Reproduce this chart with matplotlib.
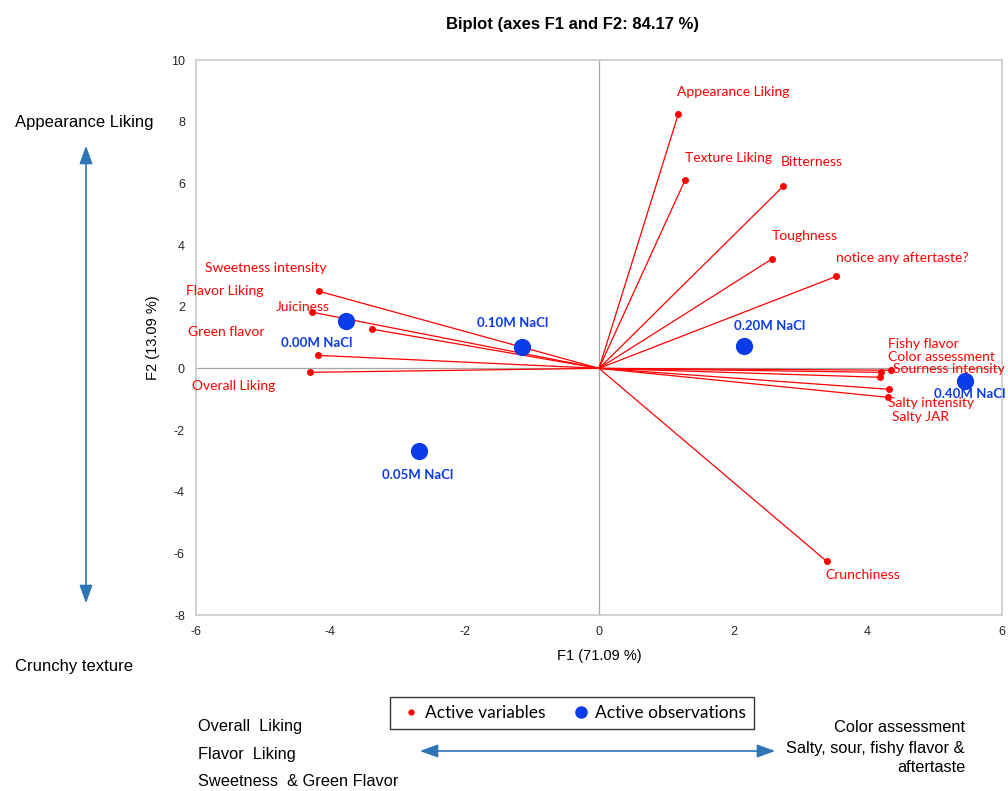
import matplotlib.pyplot as plt
from matplotlib.lines import Line2D
from matplotlib.patches import FancyArrowPatch

plt.rcParams['axes.unicode_minus'] = False

# active variables (F1, F2)
var_names = ['Appearance Liking', 'Texture Liking', 'Bitterness', 'Toughness',
             'notice any aftertaste?', 'Fishy flavor', 'Color assessment',
             'Sourness intensity', 'Salty intensity', 'Salty JAR', 'Crunchiness',
             'Sweetness intensity', 'Flavor Liking', 'Juiciness', 'Green flavor',
             'Overall Liking']
var_f1 = [1.18, 1.28, 2.74, 2.57, 3.53, 4.35, 4.20, 4.18, 4.32, 4.30, 3.39,
          -4.17, -4.27, -3.38, -4.18, -4.30]
var_f2 = [8.24, 6.10, 5.90, 3.54, 2.98, -0.06, -0.13, -0.29, -0.68, -0.94, -6.26,
          2.50, 1.82, 1.27, 0.42, -0.13]
# label offsets in pixels
var_off = [(-1, 22), (0, 22), (-2, 24), (0, 23), (0, 18), (-3, 26), (7, 15),
           (13, 8), (-1, -14), (4, -20), (-1, -14),
           (-114, 23), (-126, 21), (-96, 22), (-130, 23), (-118, -14)]

# active observations
obs_names = ['0.00M NaCl', '0.05M NaCl', '0.10M NaCl', '0.20M NaCl', '0.40M NaCl']
obs_f1 = [-3.76, -2.68, -1.15, 2.16, 5.45]
obs_f2 = [1.52, -2.69, 0.68, 0.71, -0.42]
obs_off = [(-30, -22), (-1, -24), (-9, 24), (26, 20), (5, -13)]

red = '#ff0000'
blue = '#0a3be8'
arrow_blue = '#2e75b6'
lab_font = ['Lato', 'DejaVu Sans']
arial = ['Liberation Sans', 'DejaVu Sans']
narrow = ['Liberation Sans Narrow', 'Liberation Sans', 'DejaVu Sans']

fig = plt.figure(figsize=(10.08, 7.91), dpi=100)
ax = fig.add_axes([196 / 1008, 1 - 615 / 791, 806 / 1008, 555 / 791])

ax.axhline(0, color='#a6a6a6', lw=0.9, zorder=1)
ax.axvline(0, color='#a6a6a6', lw=0.9, zorder=1)

for name, x, y, off in zip(var_names, var_f1, var_f2, var_off):
    ax.plot([0, x], [0, y], color=red, lw=0.9, zorder=2)
    ax.plot(x, y, 'o', color=red, ms=4, zorder=3)
    ax.annotate(name, (x, y), xytext=off, textcoords='offset pixels',
                ha='left', va='center', color=red, fontsize=10, family=lab_font)

ax.scatter(obs_f1, obs_f2, s=130, color=blue, zorder=4)
for name, x, y, off in zip(obs_names, obs_f1, obs_f2, obs_off):
    ax.annotate(name, (x, y), xytext=off, textcoords='offset pixels',
                ha='center', va='center', color=blue, fontsize=9.5,
                fontweight='bold', family=lab_font)

ax.set_xlim(-6, 6)
ax.set_ylim(-8, 10)
ax.set_xticks(range(-6, 7, 2))
ax.set_yticks(range(-8, 11, 2))
ax.tick_params(length=0, labelsize=9, pad=8, colors='#262626')
for lbl in ax.get_xticklabels() + ax.get_yticklabels():
    lbl.set_family(arial)
for s in ax.spines.values():
    s.set_color('#c8c8c8')
    s.set_linewidth(1.2)
ax.set_xlabel('F1 (71.09 %)', fontsize=10.5, family=arial, labelpad=8)
ax.set_ylabel('F2 (13.09 %)', fontsize=10.5, family=arial, labelpad=8)

fig.text(573 / 1008, 1 - 24 / 791, 'Biplot (axes F1 and F2: 84.17 %)', ha='center',
         va='center', fontsize=12, fontweight='bold', family=arial)

# side notes and arrows
fig.text(15 / 1008, 1 - 122 / 791, 'Appearance Liking', ha='left', va='center',
         fontsize=12, family=arial)
fig.text(15 / 1008, 1 - 666 / 791, 'Crunchy texture', ha='left', va='center',
         fontsize=12, family=arial)
astyle = '<|-|>,head_length=0.55,head_width=0.2'
fig.add_artist(FancyArrowPatch((86, 791 - 143), (86, 791 - 606), arrowstyle=astyle,
                               mutation_scale=20, color=arrow_blue, lw=1.2,
                               transform=None))
fig.add_artist(FancyArrowPatch((417, 791 - 751), (778, 791 - 751), arrowstyle=astyle,
                               mutation_scale=20, color=arrow_blue, lw=1.2,
                               transform=None))

for txt, ypx in zip(['Overall  Liking', 'Flavor  Liking', 'Sweetness  & Green Flavor'],
                    [727, 755, 782]):
    fig.text(198 / 1008, 1 - ypx / 791, txt, ha='left', va='center', fontsize=11.8,
             family=narrow)
for txt, ypx in zip(['Color assessment', 'Salty, sour, fishy flavor &', 'aftertaste'],
                    [727, 748, 768]):
    fig.text(965 / 1008, 1 - ypx / 791, txt, ha='right', va='center', fontsize=11.8,
             family=narrow)

handles = [Line2D([], [], marker='o', ls='', color=red, ms=3.5),
           Line2D([], [], marker='o', ls='', color=blue, ms=8)]
leg = fig.legend(handles, ['Active variables', 'Active observations'], ncol=2,
                 loc='center', bbox_to_anchor=(572 / 1008, 1 - 713 / 791),
                 fancybox=False, edgecolor='black', handletextpad=0.05,
                 columnspacing=1.3, handlelength=1.5, borderpad=0.45,
                 prop={'family': lab_font, 'size': 12.5})
leg.get_frame().set_linewidth(1.0)

fig.savefig('out.png', dpi=100)
